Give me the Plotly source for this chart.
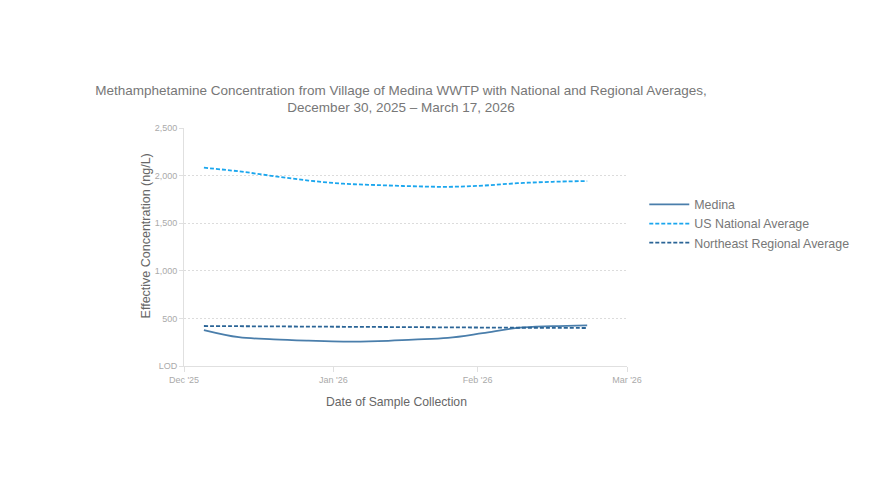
import plotly.graph_objects as go

# weekly sample dates
dates = ["2025-12-30", "2026-01-06", "2026-01-13", "2026-01-20", "2026-01-27",
         "2026-02-03", "2026-02-10", "2026-02-17", "2026-02-24", "2026-03-03",
         "2026-03-10", "2026-03-17"]

medina = [378, 303, 280, 266, 256, 262, 278, 295, 345, 400, 418, 427]
us_national = [2083, 2045, 1995, 1948, 1915, 1900, 1888, 1882, 1895, 1920, 1935, 1943]
northeast = [420, 418, 416, 414, 412, 410, 408, 406, 404, 402, 401, 399]

tick_vals = ["2025-12-26", "2026-01-25", "2026-02-23", "2026-03-25"]
tick_text = ["Dec '25", "Jan '26", "Feb '26", "Mar '26"]
y_vals = [0, 500, 1000, 1500, 2000, 2500]
y_text = ["LOD", "500", "1,000", "1,500", "2,000", "2,500"]

fig = go.Figure()
fig.add_trace(go.Scatter(
    x=dates, y=medina, name="Medina", mode="lines",
    line=dict(color="#4a7eab", width=1.8, shape="spline"),
))
fig.add_trace(go.Scatter(
    x=dates, y=us_national, name="US National Average", mode="lines",
    line=dict(color="#1aa6ee", width=1.8, dash="4px,2px", shape="spline"),
))
fig.add_trace(go.Scatter(
    x=dates, y=northeast, name="Northeast Regional Average", mode="lines",
    line=dict(color="#2a6496", width=1.8, dash="4px,2px", shape="spline"),
))

# axis titles as annotations (slightly off-centre in the original)
fig.add_annotation(text="Date of Sample Collection", xref="paper", yref="paper",
                   x=0.479, y=-0.15, showarrow=False, yanchor="middle",
                   font=dict(size=12.2, color="#666"))
fig.add_annotation(text="Effective Concentration (ng/L)", xref="paper", yref="paper",
                   x=-0.085, y=0.546, showarrow=False, textangle=-90,
                   xanchor="center", yanchor="middle",
                   font=dict(size=12.5, color="#666"))

fig.update_layout(
    width=894, height=502,
    margin=dict(l=176, r=275, t=120, b=144),
    paper_bgcolor="white", plot_bgcolor="white",
    font=dict(family="Liberation Sans, Arial, sans-serif", color="#777"),
    title=dict(
        text="Methamphetamine Concentration from Village of Medina WWTP with National and Regional Averages,<br>December 30, 2025 – March 17, 2026",
        x=0.49, xref="paper", xanchor="center",
        y=0.827, yref="container", yanchor="middle",
        font=dict(size=13.5, color="#777"),
    ),
    xaxis=dict(
        type="date", range=["2025-12-26", "2026-03-25"],
        tickvals=tick_vals, ticktext=tick_text,
        tickfont=dict(size=9, color="#aaa"),
        showgrid=False, showline=True, linecolor="#e0e0e0", linewidth=1,
        ticks="outside", ticklen=5, tickcolor="#e0e0e0",
        zeroline=False,
    ),
    yaxis=dict(
        range=[0, 2500], tickvals=y_vals, ticktext=y_text,
        tickfont=dict(size=9, color="#aaa"),
        showgrid=True, gridcolor="#dcdcdc", griddash="2px,2px", gridwidth=1,
        showline=True, linecolor="#e0e0e0", linewidth=1,
        ticks="outside", ticklen=4, tickcolor="#e0e0e0",
        zeroline=False,
    ),
    legend=dict(
        x=1.039, y=0.74, xanchor="left", yanchor="top",
        font=dict(size=12.4, color="#777"),
        tracegroupgap=0, itemwidth=40,
    ),
)

fig.write_html("out.html")
